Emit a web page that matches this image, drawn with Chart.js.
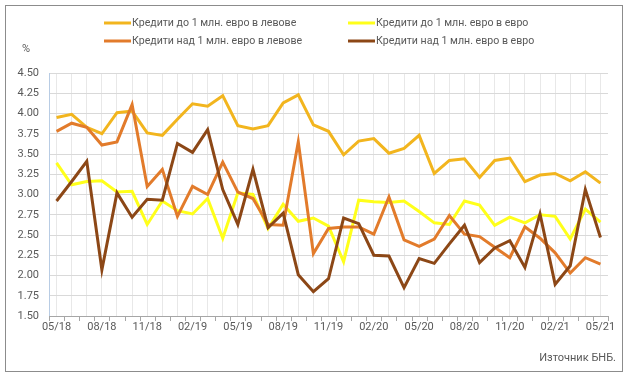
<!DOCTYPE html>
<html><head><meta charset="utf-8">
<script src="https://cdn.jsdelivr.net/npm/chart.js@4"></script>
<style>html,body{margin:0;padding:0;background:#fff;}#wrap{width:625px;height:374px;}</style>
</head><body><div id="wrap"><canvas id="c" width="625" height="374"></canvas></div>
<script>
const categories = ['05/18','06/18','07/18','08/18','09/18','10/18','11/18','12/18','01/19','02/19','03/19','04/19',
  '05/19','06/19','07/19','08/19','09/19','10/19','11/19','12/19','01/20','02/20','03/20','04/20',
  '05/20','06/20','07/20','08/20','09/20','10/20','11/20','12/20','01/21','02/21','03/21','04/21','05/21'];
const seriesNames = ['Кредити до 1 млн. евро в левове','Кредити до 1 млн. евро в евро',
  'Кредити над 1 млн. евро в левове','Кредити над 1 млн. евро в евро'];
const smallBgn = [3.95,3.99,3.83,3.75,4.01,4.03,3.76,3.73,3.93,4.12,4.09,4.22,3.85,3.81,3.85,4.13,4.23,3.86,3.78,3.49,3.66,3.69,3.51,3.57,3.73,3.26,3.42,3.44,3.21,3.42,3.45,3.16,3.24,3.26,3.17,3.28,3.14];
const smallEur = [3.39,3.12,3.16,3.17,3.03,3.04,2.63,2.92,2.80,2.76,2.95,2.46,3.02,3.00,2.58,2.88,2.67,2.71,2.61,2.17,2.93,2.91,2.90,2.92,2.79,2.65,2.63,2.92,2.87,2.62,2.72,2.65,2.75,2.73,2.45,2.82,2.66];
const largeBgn = [3.78,3.88,3.83,3.61,3.65,4.11,3.10,3.31,2.73,3.10,3.00,3.40,3.03,2.95,2.63,2.62,3.65,2.27,2.58,2.60,2.60,2.51,2.97,2.44,2.36,2.45,2.74,2.51,2.48,2.35,2.22,2.60,2.46,2.28,2.03,2.22,2.14];
const largeEur = [2.92,3.16,3.41,2.07,3.02,2.72,2.94,2.93,3.63,3.52,3.80,3.06,2.63,3.31,2.59,2.77,2.01,1.80,1.96,2.71,2.64,2.25,2.24,1.85,2.21,2.15,2.39,2.62,2.16,2.34,2.43,2.10,2.76,1.89,2.12,3.06,2.47];
const yMin = 1.5, yMax = 4.5, yStep = 0.25;
const colors = ['#F2B51E','#FFFF1A','#E27B2B','#8C4716'];
const FONT = 'Roboto';
const TXT = '#595959';

const seriesData = [smallBgn, smallEur, largeBgn, largeEur];

const decor = {
  id: 'decor',
  beforeDraw(chart) {
    const ctx = chart.ctx;
    ctx.save();
    ctx.fillStyle = '#fff';
    ctx.fillRect(0, 0, chart.width, chart.height);
    ctx.restore();
  },
  afterDraw(chart) {
    const ctx = chart.ctx;
    const a = chart.chartArea;
    ctx.save();
    // boundary tick marks on x axis
    const n = categories.length;
    ctx.strokeStyle = '#a6a6a6';
    ctx.lineWidth = 1;
    ctx.beginPath();
    for (let i = 0; i <= n; i++) {
      const x = Math.round(a.left + i * (a.right - a.left) / n) + 0.5;
      ctx.moveTo(x, a.bottom);
      ctx.lineTo(x, a.bottom + 5);
    }
    ctx.stroke();
    // legend
    const pos = [[104, 23], [348, 23], [104, 41], [348, 41]];
    ctx.font = '10.6px ' + FONT;
    ctx.textBaseline = 'middle';
    ctx.textAlign = 'left';
    chart.data.datasets.forEach((ds, i) => {
      const [x, y] = pos[i];
      ctx.strokeStyle = ds.borderColor;
      ctx.lineWidth = 3;
      ctx.beginPath();
      ctx.moveTo(x, y);
      ctx.lineTo(x + 27, y);
      ctx.stroke();
      ctx.fillStyle = TXT;
      ctx.fillText(ds.label, x + 28, y);
    });
    // unit
    ctx.font = '11px ' + FONT;
    ctx.fillText('%', 22, 49);
    // source
    ctx.textAlign = 'right';
    ctx.fillText('Източник БНБ.', 616, 358);
    // frame
    ctx.strokeStyle = '#8c8c8c';
    ctx.lineWidth = 1;
    ctx.strokeRect(5.5, 5.5, 617, 366);
    ctx.restore();
  }
};

new Chart(document.getElementById('c'), {
  type: 'line',
  data: {
    labels: categories,
    datasets: seriesData.map((d, i) => ({
      label: seriesNames[i],
      data: d,
      borderColor: colors[i],
      backgroundColor: colors[i],
      borderWidth: 3,
      pointRadius: 0,
      tension: 0,
      fill: false,
      order: 4 - i
    }))
  },
  options: {
    responsive: false,
    devicePixelRatio: 1,
    animation: false,
    layout: { padding: { left: 0, top: 73, right: 17, bottom: 0 } },
    plugins: { legend: { display: false }, tooltip: { enabled: false } },
    scales: {
      x: {
        type: 'category',
        offset: true,
        grid: { color: '#e8e8e8', drawTicks: false, offset: false },
        border: { color: '#a6a6a6' },
        ticks: {
          autoSkip: false, maxRotation: 0, minRotation: 0, padding: 5,
          color: TXT, font: { family: FONT, size: 11 },
          callback: (v, i) => (i % 3 === 0 ? categories[i] : '')
        },
        afterFit: s => { s.height = 58; }
      },
      y: {
        min: yMin, max: yMax,
        grid: { color: '#d9d9d9', drawTicks: false },
        border: { color: '#b8cce4' },
        ticks: {
          stepSize: yStep, padding: 10,
          color: TXT, font: { family: FONT, size: 11 },
          callback: v => Number(v).toFixed(2)
        },
        afterFit: s => { s.width = 49; }
      }
    }
  },
  plugins: [decor]
});
</script>
</body></html>
